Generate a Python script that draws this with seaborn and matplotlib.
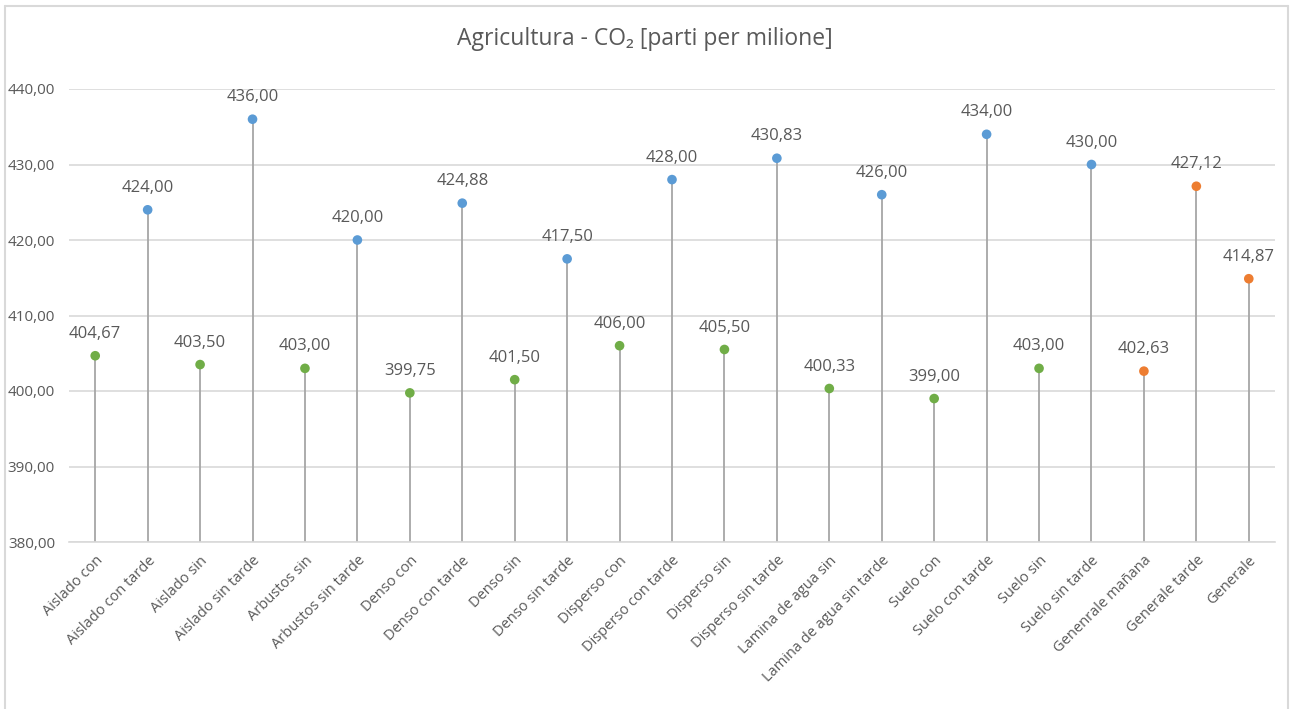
import matplotlib
matplotlib.use("Agg")
import matplotlib.pyplot as plt
from matplotlib.lines import Line2D
import seaborn as sns
import pandas as pd

categories = [
    "Aislado con", "Aislado con tarde", "Aislado sin", "Aislado sin tarde",
    "Arbustos sin", "Arbustos sin tarde", "Denso con", "Denso con tarde",
    "Denso sin", "Denso sin tarde", "Disperso con", "Disperso con tarde",
    "Disperso sin", "Disperso sin tarde", "Lamina de agua sin",
    "Lamina de agua sin tarde", "Suelo con", "Suelo con tarde", "Suelo sin",
    "Suelo sin tarde", "Genenrale mañana", "Generale tarde", "Generale",
]
values = [
    404.67, 424.00, 403.50, 436.00, 403.00, 420.00, 399.75, 424.88,
    401.50, 417.50, 406.00, 428.00, 405.50, 430.83, 400.33, 426.00,
    399.00, 434.00, 403.00, 430.00, 402.63, 427.12, 414.87,
]
groups = [
    "mattina", "tarde", "mattina", "tarde", "mattina", "tarde", "mattina", "tarde",
    "mattina", "tarde", "mattina", "tarde", "mattina", "tarde", "mattina", "tarde",
    "mattina", "tarde", "mattina", "tarde", "generale", "generale", "generale",
]
y_ticks = [380, 390, 400, 410, 420, 430, 440]
title = "Agricultura - CO₂ [parti per milione]"

palette = {"mattina": "#70AD47", "tarde": "#5B9BD5", "generale": "#ED7D31"}
text_color = "#595959"

sns.set_theme(style="white")
plt.rcParams["font.family"] = ["Open Sans", "DejaVu Sans"]

df = pd.DataFrame({"cat": categories, "val": values, "grp": groups})
df["x"] = range(len(df))

fig = plt.figure(figsize=(12.9, 7.09), dpi=100)
ax = fig.add_axes([69 / 1290, 1 - 542 / 709, (1275 - 69) / 1290, (542 - 89) / 709])

ymin, ymax = y_ticks[0], y_ticks[-1]

# stems from the axis floor up to each point
ax.vlines(df["x"], ymin, df["val"], color="#A6A6A6", linewidth=1.3, zorder=2)

sns.scatterplot(data=df, x="x", y="val", hue="grp", palette=palette,
                s=48, edgecolor="none", legend=False, ax=ax, zorder=3)

for xi, v in zip(df["x"], df["val"]):
    ax.annotate(f"{v:.2f}".replace(".", ","), (xi, v), xytext=(0, 10),
                textcoords="offset points", ha="center", va="bottom",
                fontsize=12, color=text_color)

ax.set_xlim(-0.5, len(df) - 0.5)
ax.set_ylim(ymin, ymax)
ax.set_yticks(y_ticks)
ax.set_yticklabels([f"{t:.2f}".replace(".", ",") for t in y_ticks])
ax.set_xticks(df["x"])
ax.set_xticklabels(df["cat"], rotation=45, ha="right", rotation_mode="anchor")
ax.tick_params(axis="both", length=0, labelcolor=text_color)
ax.tick_params(axis="y", pad=10, labelsize=11)
ax.tick_params(axis="x", pad=8, labelsize=10.5)
ax.set_xlabel("")
ax.set_ylabel("")
ax.grid(axis="y", color="#D9D9D9", linewidth=1.2, zorder=0)
ax.grid(axis="x", visible=False)
ax.set_axisbelow(True)
for side in ["top", "right", "left"]:
    ax.spines[side].set_visible(False)
ax.spines["bottom"].set_color("#D9D9D9")
ax.spines["bottom"].set_linewidth(1.2)

fig.text(0.5, 1 - 39 / 709, title, ha="center", va="center",
         fontsize=16.5, color=text_color)

# chart frame
frame_kw = dict(color="#D9D9D9", linewidth=1.5, transform=fig.transFigure)
fig.add_artist(Line2D([5 / 1290, 5 / 1290], [0, 1 - 6 / 709], **frame_kw))
fig.add_artist(Line2D([5 / 1290, 1288 / 1290], [1 - 6 / 709, 1 - 6 / 709], **frame_kw))
fig.add_artist(Line2D([1288 / 1290, 1288 / 1290], [0, 1 - 6 / 709], **frame_kw))

fig.savefig("out.png", dpi=100, facecolor="white")
